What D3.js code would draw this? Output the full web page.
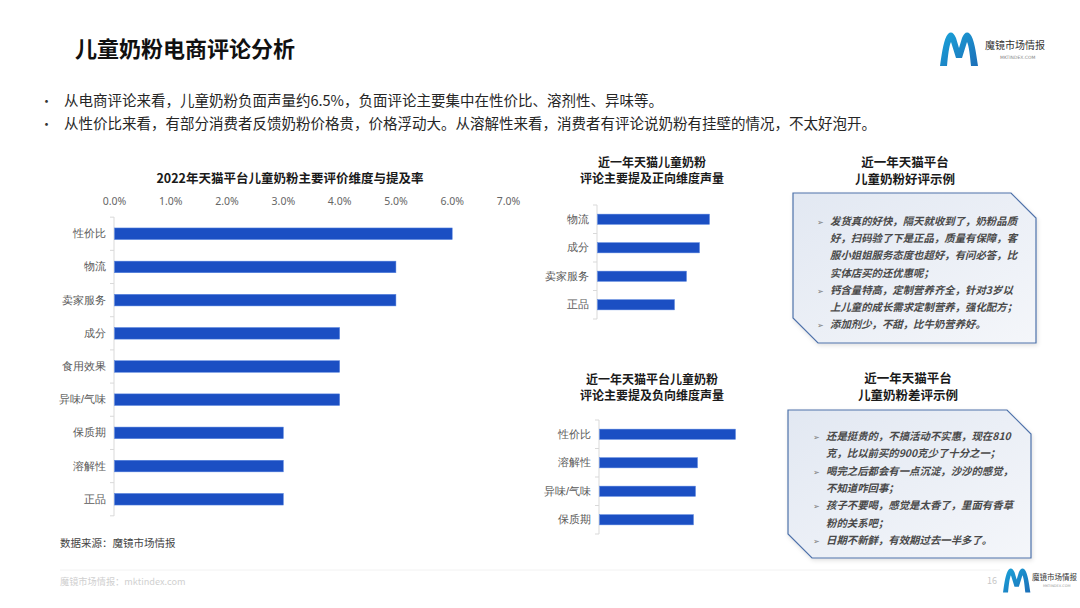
<!DOCTYPE html>
<html>
<head>
<meta charset="utf-8">
<script src="https://cdn.jsdelivr.net/npm/d3@7"></script>
<style>
  body { margin: 0; background: #fff; }
  svg { display: block; font-family: "Noto Sans CJK SC", "Noto Sans", sans-serif; }
</style>
</head>
<body>
<div id="chart"></div>
<script>
// main chart: 2022 mention rate (%)
const mainCats = ["性价比", "物流", "卖家服务", "成分", "食用效果", "异味/气味", "保质期", "溶解性", "正品"];
const mainVals = [6.0, 5.0, 5.0, 4.0, 4.0, 4.0, 3.0, 3.0, 3.0];
const mainTicks = [0, 1, 2, 3, 4, 5, 6, 7];

// positive / negative volume (relative)
const posCats = ["物流", "成分", "卖家服务", "正品"];
const posVals = [112, 102, 89, 77];
const negCats = ["性价比", "溶解性", "异味/气味", "保质期"];
const negVals = [136, 98, 96, 94];

const bullets = [
  "从电商评论来看，儿童奶粉负面声量约6.5%，负面评论主要集中在性价比、溶剂性、异味等。",
  "从性价比来看，有部分消费者反馈奶粉价格贵，价格浮动大。从溶解性来看，消费者有评论说奶粉有挂壁的情况，不太好泡开。"
];

const goodLines = [
  ["发货真的好快，隔天就收到了，奶粉品质", true],
  ["好，扫码验了下是正品，质量有保障，客", false],
  ["服小姐姐服务态度也超好，有问必答，比", false],
  ["实体店买的还优惠呢；", false],
  ["钙含量特高，定制营养齐全，针对3岁以", true],
  ["上儿童的成长需求定制营养，强化配方；", false],
  ["添加剂少，不甜，比牛奶营养好。", true]
];
const badLines = [
  ["还是挺贵的，不搞活动不实惠，现在810", true],
  ["克，比以前买的900克少了十分之一；", false],
  ["喝完之后都会有一点沉淀，沙沙的感觉，", true],
  ["不知道咋回事；", false],
  ["孩子不要喝，感觉是太香了，里面有香草", true],
  ["粉的关系吧；", false],
  ["日期不新鲜，有效期过去一半多了。", true]
];

const W = 1080, H = 608;
const BAR = "#1b4fc3";
const svg = d3.select("#chart").append("svg").attr("width", W).attr("height", H);

const defs = svg.append("defs");
const lg = defs.append("linearGradient").attr("id", "logoGrad")
  .attr("x1", 0).attr("y1", 0).attr("x2", 1).attr("y2", 1);
lg.append("stop").attr("offset", "0%").attr("stop-color", "#1aa3d9");
lg.append("stop").attr("offset", "100%").attr("stop-color", "#1c6fb8");
const bg = defs.append("linearGradient").attr("id", "boxGrad")
  .attr("x1", 0).attr("y1", 0).attr("x2", 1).attr("y2", 1);
bg.append("stop").attr("offset", "0%").attr("stop-color", "#e2e8f2");
bg.append("stop").attr("offset", "100%").attr("stop-color", "#f4f6fa");
const sh = defs.append("filter").attr("id", "shadow").attr("x", -0.1).attr("y", -0.1).attr("width", 1.2).attr("height", 1.2);
sh.append("feDropShadow").attr("dx", 1).attr("dy", 2).attr("stdDeviation", 2).attr("flood-color", "#000").attr("flood-opacity", 0.12);

// header
svg.append("text").attr("x", 75).attr("y", 57)
  .attr("font-size", 22).attr("font-weight", "bold").attr("fill", "#111")
  .text("儿童奶粉电商评论分析");

bullets.forEach((t, i) => {
  const y = 106 + i * 23;
  svg.append("text").attr("x", 40).attr("y", y).attr("font-size", 13).attr("fill", "#333").text("•");
  svg.append("text").attr("x", 64).attr("y", y).attr("font-size", 14.5).attr("fill", "#262626").text(t);
});

// logo
function logo(x, y, s) {
  const g = svg.append("g").attr("transform", `translate(${x},${y}) scale(${s})`);
  g.append("path").attr("fill", "url(#logoGrad)")
    .attr("d", "M0,34 C2,20 4,6 8,2 C11,-1 14,1 16,6 L19,16 L22,6 C24,1 27,-1 30,2 C34,6 36,20 38,34 L31,34 C30,24 29,14 27,10 L22,26 L16,26 L11,10 C9,14 8,24 7,34 Z");
  return g;
}
logo(940, 32, 1);
svg.append("text").attr("x", 985).attr("y", 49).attr("font-size", 10).attr("fill", "#333").text("魔镜市场情报");
svg.append("text").attr("x", 1000).attr("y", 59).attr("font-size", 4.5).attr("fill", "#888").attr("font-family", "DejaVu Sans").text("MKTINDEX.COM");

// main chart
const x = d3.scaleLinear().domain([0, 7]).range([114, 508]);
const y = d3.scaleBand().domain(mainCats).range([217, 516]).paddingInner(0.65).paddingOuter(0.33);

svg.append("text").attr("x", 290).attr("y", 183).attr("text-anchor", "middle")
  .attr("font-size", 12.5).attr("font-weight", "bold").attr("fill", "#1a1a1a")
  .text("2022年天猫平台儿童奶粉主要评价维度与提及率");

const xAxis = svg.append("g").attr("transform", "translate(0,208)")
  .call(d3.axisTop(x).tickValues(mainTicks).tickSize(0).tickFormat(d => d.toFixed(1) + "%"));
xAxis.select(".domain").remove();
xAxis.selectAll("text").attr("font-size", 10.5).attr("fill", "#666").attr("font-family", "Noto Sans, sans-serif");

function yAxisFrame(scale, x0) {
  const r = scale.range();
  svg.append("line").attr("x1", x0).attr("x2", x0).attr("y1", r[0]).attr("y2", r[1])
    .attr("stroke", "#d9d9d9").attr("stroke-width", 1);
  const step = scale.step();
  const start = scale(scale.domain()[0]) - step * scale.paddingInner() / 2;
  d3.range(scale.domain().length + 1).forEach(i => {
    svg.append("line").attr("x1", x0 - 4).attr("x2", x0)
      .attr("y1", start + i * step).attr("y2", start + i * step)
      .attr("stroke", "#d9d9d9");
  });
  const ax = svg.append("g").attr("transform", `translate(${x0 - 5},0)`)
    .call(d3.axisLeft(scale).tickSize(0));
  ax.select(".domain").remove();
  ax.selectAll("text").attr("font-size", 11).attr("fill", "#595959");
}
yAxisFrame(y, 114);

svg.append("g").selectAll("rect").data(mainCats).join("rect")
  .attr("x", x(0) + 0.5).attr("y", d => y(d))
  .attr("width", (d, i) => x(mainVals[i]) - x(0)).attr("height", y.bandwidth())
  .attr("fill", BAR).attr("stroke", "#5a86e0").attr("stroke-width", 0.5);

svg.append("text").attr("x", 60).attr("y", 547).attr("font-size", 10.5).attr("fill", "#444")
  .text("数据来源：魔镜市场情报");

// small charts
const vx = d3.scaleLinear().domain([0, 140]).range([0, 140]);
function smallChart(cats, vals, x0, r0, r1, title, tx, ty) {
  title.forEach((t, i) => {
    svg.append("text").attr("x", tx).attr("y", ty + i * 16).attr("text-anchor", "middle")
      .attr("font-size", 12).attr("font-weight", "bold").attr("fill", "#1a1a1a").text(t);
  });
  const ys = d3.scaleBand().domain(cats).range([r0, r1]).paddingInner(0.64).paddingOuter(0.32);
  yAxisFrame(ys, x0);
  svg.append("g").selectAll("rect").data(cats).join("rect")
    .attr("x", x0 + 0.5).attr("y", d => ys(d))
    .attr("width", (d, i) => vx(vals[i])).attr("height", ys.bandwidth())
    .attr("fill", BAR).attr("stroke", "#5a86e0").attr("stroke-width", 0.5);
}
smallChart(posCats, posVals, 597, 205, 319, ["近一年天猫儿童奶粉", "评论主要提及正向维度声量"], 652, 167);
smallChart(negCats, negVals, 599, 420, 534, ["近一年天猫平台儿童奶粉", "评论主要提及负向维度声量"], 652, 384);

// review boxes
function reviewBox(title, tx, ty, L, T, R, B, cut1, cut2, lines, textX, lineY, lineH) {
  title.forEach((t, i) => {
    svg.append("text").attr("x", tx).attr("y", ty + i * 17).attr("text-anchor", "middle")
      .attr("font-size", 12.5).attr("font-weight", "bold").attr("fill", "#1a1a1a").text(t);
  });
  const pts = [[L, T], [R - cut1, T], [R, T + cut1], [R, B], [L + cut2, B], [L, B - cut2]];
  svg.append("polygon").attr("points", pts.map(p => p.join(",")).join(" "))
    .attr("fill", "url(#boxGrad)").attr("stroke", "#4e72aa").attr("stroke-width", 1.2)
    .attr("filter", "url(#shadow)");
  lines.forEach((l, i) => {
    const yy = lineY + i * lineH;
    if (l[1]) svg.append("text").attr("x", textX - 13).attr("y", yy).attr("font-size", 8)
      .attr("fill", "#7a7a7a").attr("font-family", "DejaVu Sans").text("➢");
    svg.append("text").attr("x", textX).attr("y", yy).attr("font-size", 10.4)
      .attr("font-style", "italic").attr("font-weight", "bold").attr("fill", "#4a4a4a").text(l[0]);
  });
}
reviewBox(["近一年天猫平台", "儿童奶粉好评示例"], 905, 167, 793, 193, 1036, 343, 25, 25,
  goodLines, 830, 225, 17.2);
reviewBox(["近一年天猫平台", "儿童奶粉差评示例"], 908, 383, 788, 410, 1031, 558, 24, 24,
  badLines, 826, 440, 17.3);

// footer
svg.append("line").attr("x1", 60).attr("x2", 1000).attr("y1", 570).attr("y2", 570)
  .attr("stroke", "#f2f2f2");
svg.append("text").attr("x", 60).attr("y", 585).attr("font-size", 9.2).attr("fill", "#d0d0d0")
  .text("魔镜市场情报：mktindex.com");
svg.append("text").attr("x", 987).attr("y", 584).attr("font-size", 9).attr("fill", "#c8c8c8").text("16");
logo(1003, 568, 0.72);
svg.append("text").attr("x", 1032).attr("y", 580).attr("font-size", 7.5).attr("fill", "#333").text("魔镜市场情报");
svg.append("text").attr("x", 1043).attr("y", 587).attr("font-size", 3.5).attr("fill", "#999").attr("font-family", "DejaVu Sans").text("MKTINDEX.COM");
</script>
</body>
</html>
